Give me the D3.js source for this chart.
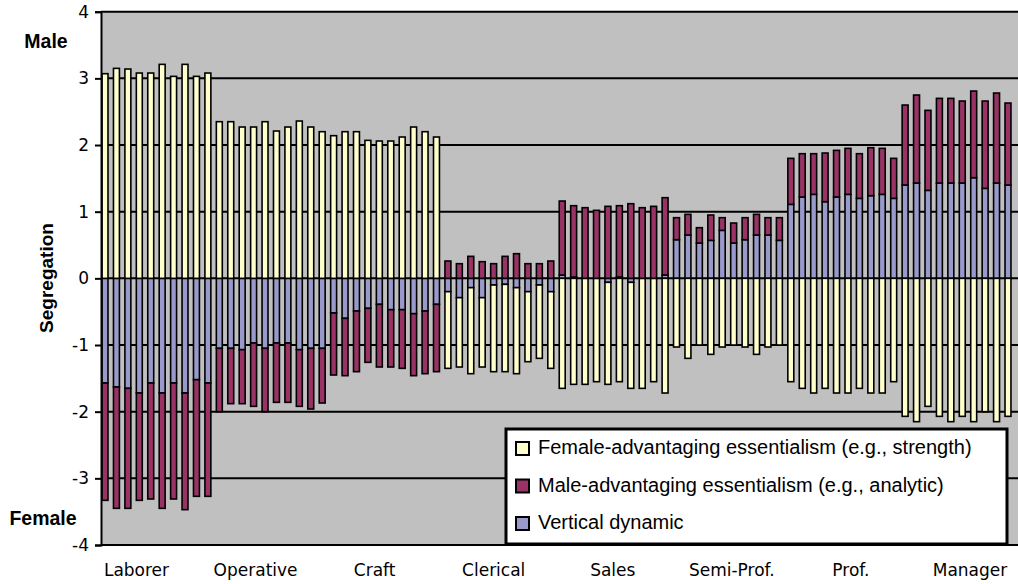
<!DOCTYPE html>
<html>
<head>
<meta charset="utf-8">
<script src="https://cdn.jsdelivr.net/npm/d3@7"></script>
<style>
  body { margin: 0; background: #fff; }
  svg { display: block; }
</style>
</head>
<body>
<svg width="1018" height="584"></svg>
<script>
// Occupational groups, ten bars each
const categories = ["Laborer", "Operative", "Craft", "Clerical", "Sales", "Semi-Prof.", "Prof.", "Manager"];

// Female-advantaging essentialism (yellow)
const femaleAdv = [
  3.07, 3.15, 3.14, 3.08, 3.08, 3.21, 3.03, 3.21, 3.03, 3.08,
  2.35, 2.35, 2.27, 2.27, 2.35, 2.21, 2.27, 2.36, 2.27, 2.20,
  2.14, 2.20, 2.20, 2.07, 2.06, 2.06, 2.12, 2.27, 2.20, 2.12,
  -1.15, -1.04, -1.29, -1.04, -1.30, -1.31, -1.29, -1.05, -1.10, -1.15,
  -1.65, -1.59, -1.59, -1.55, -1.53, -1.55, -1.59, -1.65, -1.55, -1.72,
  -1.03, -1.20, -1.00, -1.14, -1.03, -1.00, -1.03, -1.14, -1.03, -1.00,
  -1.55, -1.65, -1.72, -1.65, -1.72, -1.72, -1.65, -1.72, -1.72, -1.55,
  -2.07, -2.15, -1.92, -2.07, -2.15, -2.07, -2.15, -2.00, -2.15, -2.07
];

// Male-advantaging essentialism (maroon)
const maleAdv = [
  -1.76, -1.82, -1.80, -1.61, -1.74, -1.73, -1.74, -1.75, -1.75, -1.70,
  -0.95, -0.83, -0.81, -0.95, -0.95, -0.89, -0.89, -0.85, -0.91, -0.82,
  -0.93, -0.86, -0.91, -0.81, -0.94, -0.86, -0.88, -0.93, -0.94, -1.01,
  0.26, 0.22, 0.33, 0.25, 0.22, 0.33, 0.37, 0.22, 0.22, 0.26,
  1.11, 1.07, 1.06, 1.02, 1.08, 1.07, 1.12, 1.06, 1.08, 1.16,
  0.33, 0.31, 0.23, 0.38, 0.19, 0.30, 0.33, 0.31, 0.26, 0.34,
  0.69, 0.65, 0.61, 0.73, 0.70, 0.69, 0.67, 0.72, 0.69, 0.60,
  1.20, 1.32, 1.20, 1.27, 1.27, 1.23, 1.30, 1.31, 1.35, 1.23
];

// Vertical dynamic (blue)
const vertical = [
  -1.57, -1.63, -1.65, -1.72, -1.57, -1.72, -1.57, -1.72, -1.52, -1.57,
  -1.05, -1.05, -1.07, -0.97, -1.05, -0.97, -0.97, -1.07, -1.05, -1.05,
  -0.52, -0.60, -0.49, -0.45, -0.39, -0.47, -0.47, -0.53, -0.49, -0.39,
  -0.20, -0.29, -0.14, -0.29, -0.10, -0.09, -0.14, -0.20, -0.10, -0.20,
  0.05, 0.02, 0.00, 0.00, -0.06, 0.02, -0.06, 0.00, 0.00, 0.05,
  0.58, 0.65, 0.53, 0.57, 0.72, 0.53, 0.58, 0.65, 0.65, 0.57,
  1.11, 1.22, 1.26, 1.15, 1.22, 1.26, 1.20, 1.24, 1.26, 1.20,
  1.40, 1.43, 1.32, 1.43, 1.43, 1.43, 1.51, 1.35, 1.43, 1.40
];

const yTicks = [-4, -3, -2, -1, 0, 1, 2, 3, 4];

const legendItems = [
  { key: "femaleAdv", label: "Female-advantaging essentialism (e.g., strength)" },
  { key: "maleAdv", label: "Male-advantaging essentialism (e.g., analytic)" },
  { key: "vertical", label: "Vertical dynamic" }
];

const colors = { femaleAdv: "#FFFFCC", maleAdv: "#993366", vertical: "#9999CC" };

// Build one row per bar
const rows = femaleAdv.map((d, i) => ({
  idx: i,
  femaleAdv: d,
  maleAdv: maleAdv[i],
  vertical: vertical[i]
}));

const svg = d3.select("svg");

// Plot area
const plot = { left: 101, right: 1018, top: 11.7, bottom: 545 };

const y = d3.scaleLinear().domain([-4, 4]).range([plot.bottom, plot.top]);

const x = d3.scaleBand()
  .domain(rows.map(d => d.idx))
  .range([99.3, 1013.7])
  .paddingInner(0.48)
  .paddingOuter(0.24);

// Category label positions
const xLabel = d3.scalePoint().domain(categories).range([136.5, 970]);

// Grey background
svg.append("rect")
  .attr("x", plot.left)
  .attr("y", plot.top)
  .attr("width", plot.right - plot.left)
  .attr("height", plot.bottom - plot.top)
  .attr("fill", "#C0C0C0");

// Horizontal gridlines
svg.append("g")
  .selectAll("line")
  .data(yTicks)
  .join("line")
  .attr("x1", plot.left)
  .attr("x2", plot.right)
  .attr("y1", d => y(d))
  .attr("y2", d => y(d))
  .attr("stroke", "#000")
  .attr("stroke-width", 2);

// Stacked bars: vertical dynamic sits next to zero, the others beyond it
const stack = d3.stack()
  .keys(["vertical", "femaleAdv", "maleAdv"])
  .offset(d3.stackOffsetDiverging);

const series = stack(rows);

svg.append("g")
  .selectAll("g")
  .data(series)
  .join("g")
  .attr("fill", d => colors[d.key])
  .selectAll("rect")
  .data(d => d.filter(s => s[1] !== s[0]))
  .join("rect")
  .attr("x", d => x(d.data.idx))
  .attr("width", x.bandwidth())
  .attr("y", d => y(Math.max(d[0], d[1])))
  .attr("height", d => Math.abs(y(d[0]) - y(d[1])))
  .attr("stroke", "#000")
  .attr("stroke-width", 1.6);

// Y axis
const yAxis = svg.append("g")
  .attr("transform", `translate(${plot.left},0)`)
  .call(d3.axisLeft(y).tickValues(yTicks).tickSize(6).tickPadding(6).tickFormat(d => String(d)));

yAxis.select(".domain").attr("stroke", "#000").attr("stroke-width", 2);
yAxis.selectAll(".tick line").attr("stroke", "#000").attr("stroke-width", 2);
yAxis.selectAll(".tick text")
  .attr("fill", "#000")
  .style("font-family", "'DejaVu Sans', sans-serif")
  .style("font-size", "17px");

// Category labels
svg.append("g")
  .selectAll("text")
  .data(categories)
  .join("text")
  .attr("x", d => xLabel(d))
  .attr("y", 576)
  .attr("text-anchor", "middle")
  .style("font-family", "'DejaVu Sans', sans-serif")
  .style("font-size", "17px")
  .text(d => d);

// Axis title and end labels
svg.append("text")
  .attr("transform", "translate(53,278) rotate(-90)")
  .attr("text-anchor", "middle")
  .style("font-family", "'Liberation Sans', Arial, sans-serif")
  .style("font-weight", "bold")
  .style("font-size", "19px")
  .text("Segregation");

svg.append("text")
  .attr("x", 46)
  .attr("y", 48)
  .attr("text-anchor", "middle")
  .style("font-family", "'Liberation Sans', Arial, sans-serif")
  .style("font-weight", "bold")
  .style("font-size", "19.5px")
  .text("Male");

svg.append("text")
  .attr("x", 43)
  .attr("y", 525)
  .attr("text-anchor", "middle")
  .style("font-family", "'Liberation Sans', Arial, sans-serif")
  .style("font-weight", "bold")
  .style("font-size", "19.5px")
  .text("Female");

// Legend
const legend = svg.append("g").attr("transform", "translate(506,429)");

legend.append("rect")
  .attr("width", 501)
  .attr("height", 115)
  .attr("fill", "#fff")
  .attr("stroke", "#000")
  .attr("stroke-width", 3);

const legendRow = legend.selectAll("g.item")
  .data(legendItems)
  .join("g")
  .attr("class", "item")
  .attr("transform", (d, i) => `translate(0,${i * 37.5})`);

legendRow.append("rect")
  .attr("x", 10)
  .attr("y", 13)
  .attr("width", 13)
  .attr("height", 13)
  .attr("fill", d => colors[d.key])
  .attr("stroke", "#000")
  .attr("stroke-width", 2);

legendRow.append("text")
  .attr("x", 32)
  .attr("y", 23)
  .attr("dy", "0.1em")
  .style("font-family", "'Liberation Sans', Arial, sans-serif")
  .style("font-size", "20px")
  .text(d => d.label);
</script>
</body>
</html>
